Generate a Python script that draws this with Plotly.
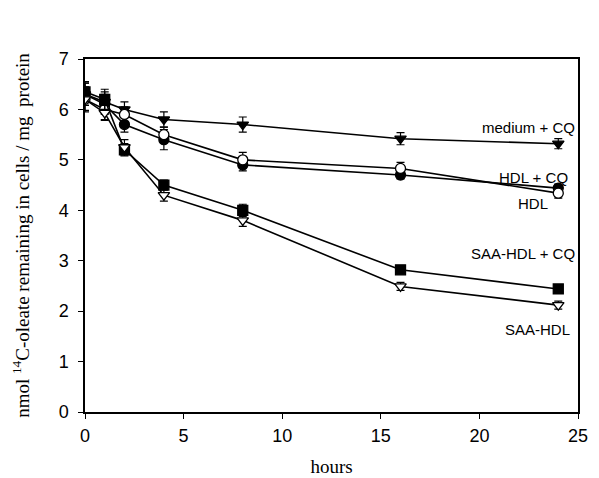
import plotly.graph_objects as go

hours = [0, 1, 2, 4, 8, 16, 24]

medium_cq = [6.30, 6.15, 6.00, 5.80, 5.70, 5.42, 5.32]
medium_cq_err = [0.22, 0.20, 0.15, 0.15, 0.15, 0.12, 0.10]

hdl_cq = [6.30, 6.10, 5.70, 5.40, 4.90, 4.70, 4.44]
hdl_cq_err = [0.22, 0.20, 0.15, 0.20, 0.12, 0.08, 0.08]

hdl = [6.20, 6.00, 5.90, 5.50, 5.00, 4.83, 4.34]
hdl_err = [0.22, 0.20, 0.15, 0.15, 0.15, 0.12, 0.10]

saa_hdl_cq = [6.35, 6.20, 5.20, 4.50, 4.00, 2.82, 2.44]
saa_hdl_cq_err = [0.20, 0.20, 0.12, 0.10, 0.12, 0.08, 0.08]

saa_hdl = [6.20, 5.93, 5.25, 4.30, 3.80, 2.49, 2.12]
saa_hdl_err = [0.25, 0.15, 0.15, 0.12, 0.12, 0.08, 0.08]

series = [
    ("medium + CQ", medium_cq, medium_cq_err, "triangle-down", "black"),
    ("HDL + CQ", hdl_cq, hdl_cq_err, "circle", "black"),
    ("HDL", hdl, hdl_err, "circle", "white"),
    ("SAA-HDL + CQ", saa_hdl_cq, saa_hdl_cq_err, "square", "black"),
    ("SAA-HDL", saa_hdl, saa_hdl_err, "triangle-down", "white"),
]

labels = ["medium + CQ", "HDL + CQ", "HDL", "SAA-HDL + CQ", "SAA-HDL"]
label_x = [24.95, 24.6, 23.6, 24.95, 24.7]
label_y = [5.64, 4.66, 4.14, 3.15, 1.64]

fig = go.Figure()
for name, vals, errs, sym, fill in series:
    fig.add_trace(go.Scatter(
        x=hours, y=vals, name=name, mode="lines+markers",
        line=dict(color="black", width=1.6),
        marker=dict(symbol=sym, size=10, color=fill,
                    line=dict(color="black", width=1.3)),
        error_y=dict(type="data", array=errs, visible=True,
                     color="black", thickness=1.2, width=4),
        showlegend=False,
    ))

for t, xv, yv in zip(labels, label_x, label_y):
    fig.add_annotation(x=xv, y=yv, text=t, showarrow=False,
                       xanchor="right", yanchor="middle",
                       font=dict(family="Liberation Sans, Arial", size=15, color="black"))

axis_common = dict(showline=True, linecolor="black", linewidth=1.5, mirror=True,
                   ticks="outside", ticklen=5, tickcolor="black", tickwidth=1,
                   showgrid=False, zeroline=False,
                   tickfont=dict(family="Liberation Sans, Arial", size=18, color="black"))

serif = dict(family="Liberation Serif, Times New Roman", size=19, color="black")

fig.update_layout(
    width=599, height=478,
    margin=dict(l=77, r=29, t=51, b=70),
    paper_bgcolor="white", plot_bgcolor="white",
    xaxis=dict(range=[0, 25], tickvals=[0, 5, 10, 15, 20, 25],
               ticklabelstandoff=2,
               title=dict(text="hours", font=serif, standoff=14),
               **axis_common),
    yaxis=dict(range=[0, 7], tickvals=[0, 1, 2, 3, 4, 5, 6, 7],
               ticklabelstandoff=6,
               title=dict(text="nmol <sup>14</sup>C-oleate remaining in cells / mg  protein",
                          font=serif, standoff=24),
               **axis_common),
)

fig.write_html("out.html")
